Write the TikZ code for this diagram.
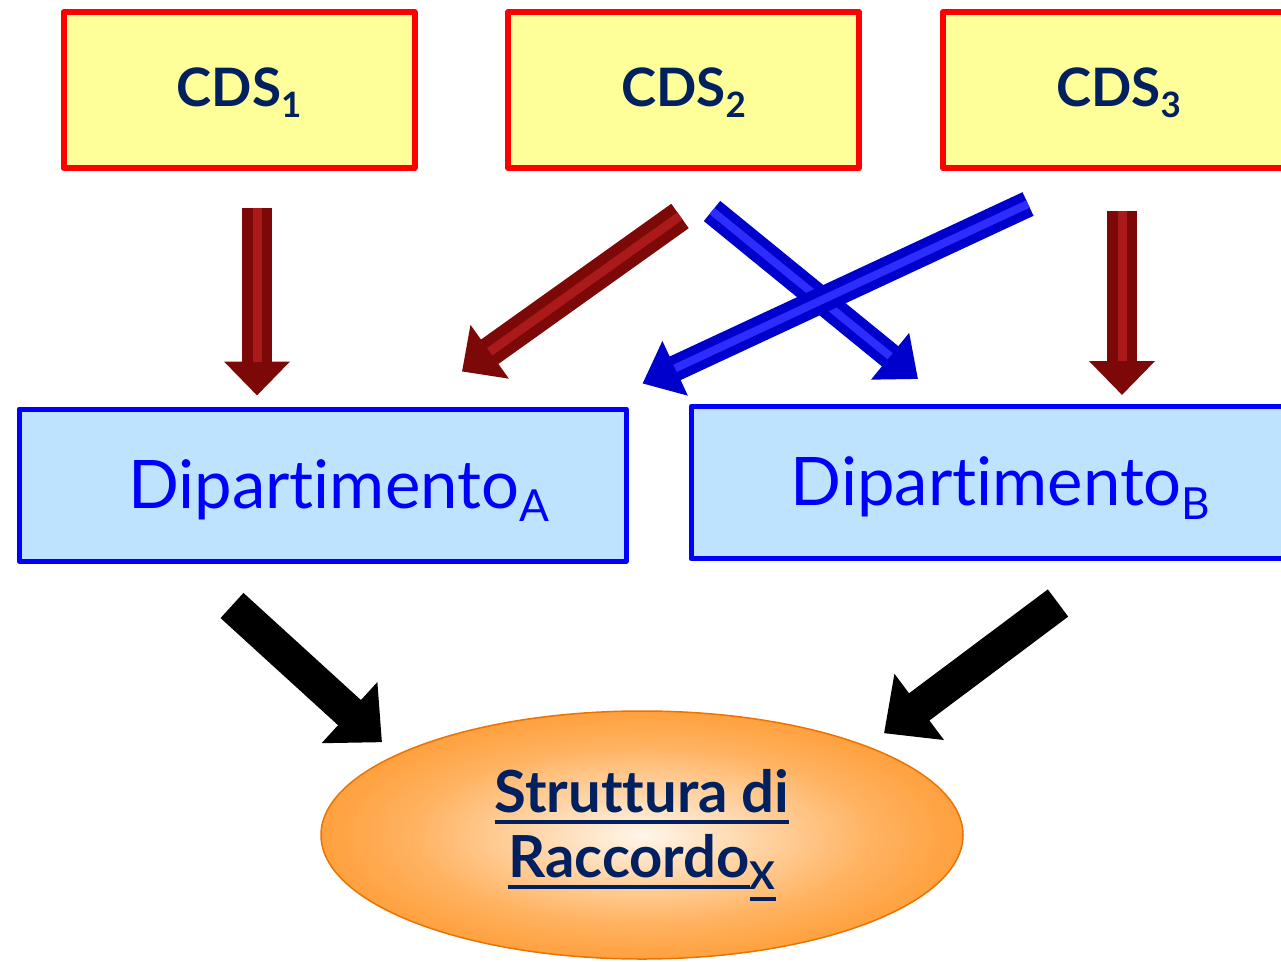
\documentclass[tikz,border=0pt]{standalone}
\usepackage{fontspec}
\setmainfont{Lato}[Ligatures={NoCommon,NoRare}]
\usetikzlibrary{arrows.meta,shapes.geometric}

\definecolor{gelb}{RGB}{255,255,153}
\definecolor{rahmenrot}{RGB}{255,0,0}
\definecolor{hellblau}{RGB}{190,227,255}
\definecolor{reinblau}{RGB}{0,0,255}
\definecolor{navy}{RGB}{0,32,96}
\definecolor{weinrot}{RGB}{125,8,8}
\definecolor{weinhell}{RGB}{170,26,26}
\definecolor{tiefblau}{RGB}{0,0,205}
\definecolor{blauhell}{RGB}{45,45,255}
\definecolor{orangerand}{RGB}{235,115,0}
\definecolor{okern}{RGB}{255,246,234}
\definecolor{omitte}{RGB}{255,178,96}
\definecolor{orand}{RGB}{255,128,0}

\pgfdeclareradialshading{leuchten}{\pgfpoint{0bp}{0bp}}{%
  color(0bp)=(okern); color(18bp)=(omitte); color(38bp)=(orand); color(50bp)=(orand)}

% Tiefgestellte Indizes und Unterstreichung
\newcommand{\pedice}[1]{\raisebox{-0.4ex}{\scalebox{0.66}{#1}}}
\newcommand{\sottolinea}[1]{\vtop{\hbox{#1}\kern7pt\hrule height 4pt}}

\tikzset{
  cds/.style={draw=rahmenrot, fill=gelb, line width=6pt, line join=round,
    minimum width=351pt, minimum height=156pt, text=navy, text height=44pt,
    font=\fontsize{53}{60}\selectfont\bfseries},
  dip/.style={draw=reinblau, fill=hellblau, line width=5pt, line join=round,
    minimum width=607pt, minimum height=152pt, text=reinblau, text height=60pt,
    font=\fontsize{67}{72}\selectfont},
  rotpfeil/.style={line width=30pt, weinrot, -{Triangle[width=64pt,length=34pt]},
    postaction={draw=weinhell, line width=9pt, -, shorten >=34pt}},
  blaupfeil/.style={line width=26pt, tiefblau, -{Triangle[width=58pt,length=36pt]},
    postaction={draw=blauhell, line width=8pt, -, shorten >=36pt}},
  schwarzpfeil/.style={line width=34pt, black, -{Triangle[width=80pt,length=44pt]}}
}

\begin{document}
\begin{tikzpicture}[x=1pt,y=-1pt]
  \useasboundingbox (0,0) rectangle (1281,961);
  % Studiengaenge oben
  \foreach \i/\x in {1/239,2/683.5,3/1118.5} {
    \node[cds] (cds\i) at (\x,90) {CDS\pedice{\i}};
  }
  % Departments
  \node[dip] (depA) at (322.5,485) {\hspace*{32pt}Dipartimento\pedice{A}};
  \node[dip] (depB) at (994.5,482.5) {\hspace*{12pt}Dipartimento\pedice{B}};
  % Verbindungsstruktur
  \node[ellipse, draw=orangerand, line width=1.5pt, minimum width=642pt,
    minimum height=248pt, shading=leuchten, text=navy, align=center,
    font=\fontsize{58}{65}\selectfont\bfseries]
    (rac) at (642,835) {\sottolinea{Struttura di}\\\sottolinea{Raccordo}\sottolinea{\pedice{X}}};
  % Pfeile
  \draw[rotpfeil] ([shift={(18,37)}]cds1.south) -- ([shift={(-65.5,-11)}]depA.north);
  \draw[rotpfeil] ([shift={(-3.5,45)}]cds2.south) -- ([shift={(139.5,-35)}]depA.north);
  \draw[blaupfeil] ([shift={(28.5,40)}]cds2.south) -- ([shift={(-76.5,-25)}]depB.north);
  \draw[blaupfeil] ([shift={(-90.5,33)}]cds3.south) -- ([shift={(14,-23)}]depA.north east);
  \draw[rotpfeil] ([shift={(3.5,40)}]cds3.south) -- ([shift={(127.5,-9)}]depB.north);
  \draw[schwarzpfeil] ([shift={(-90.5,42)}]depA.south) -- ([shift={(-260,32)}]rac.north);
  \draw[schwarzpfeil] ([shift={(63.5,42)}]depB.south) -- ([shift={(242,23)}]rac.north);
\end{tikzpicture}
\end{document}
